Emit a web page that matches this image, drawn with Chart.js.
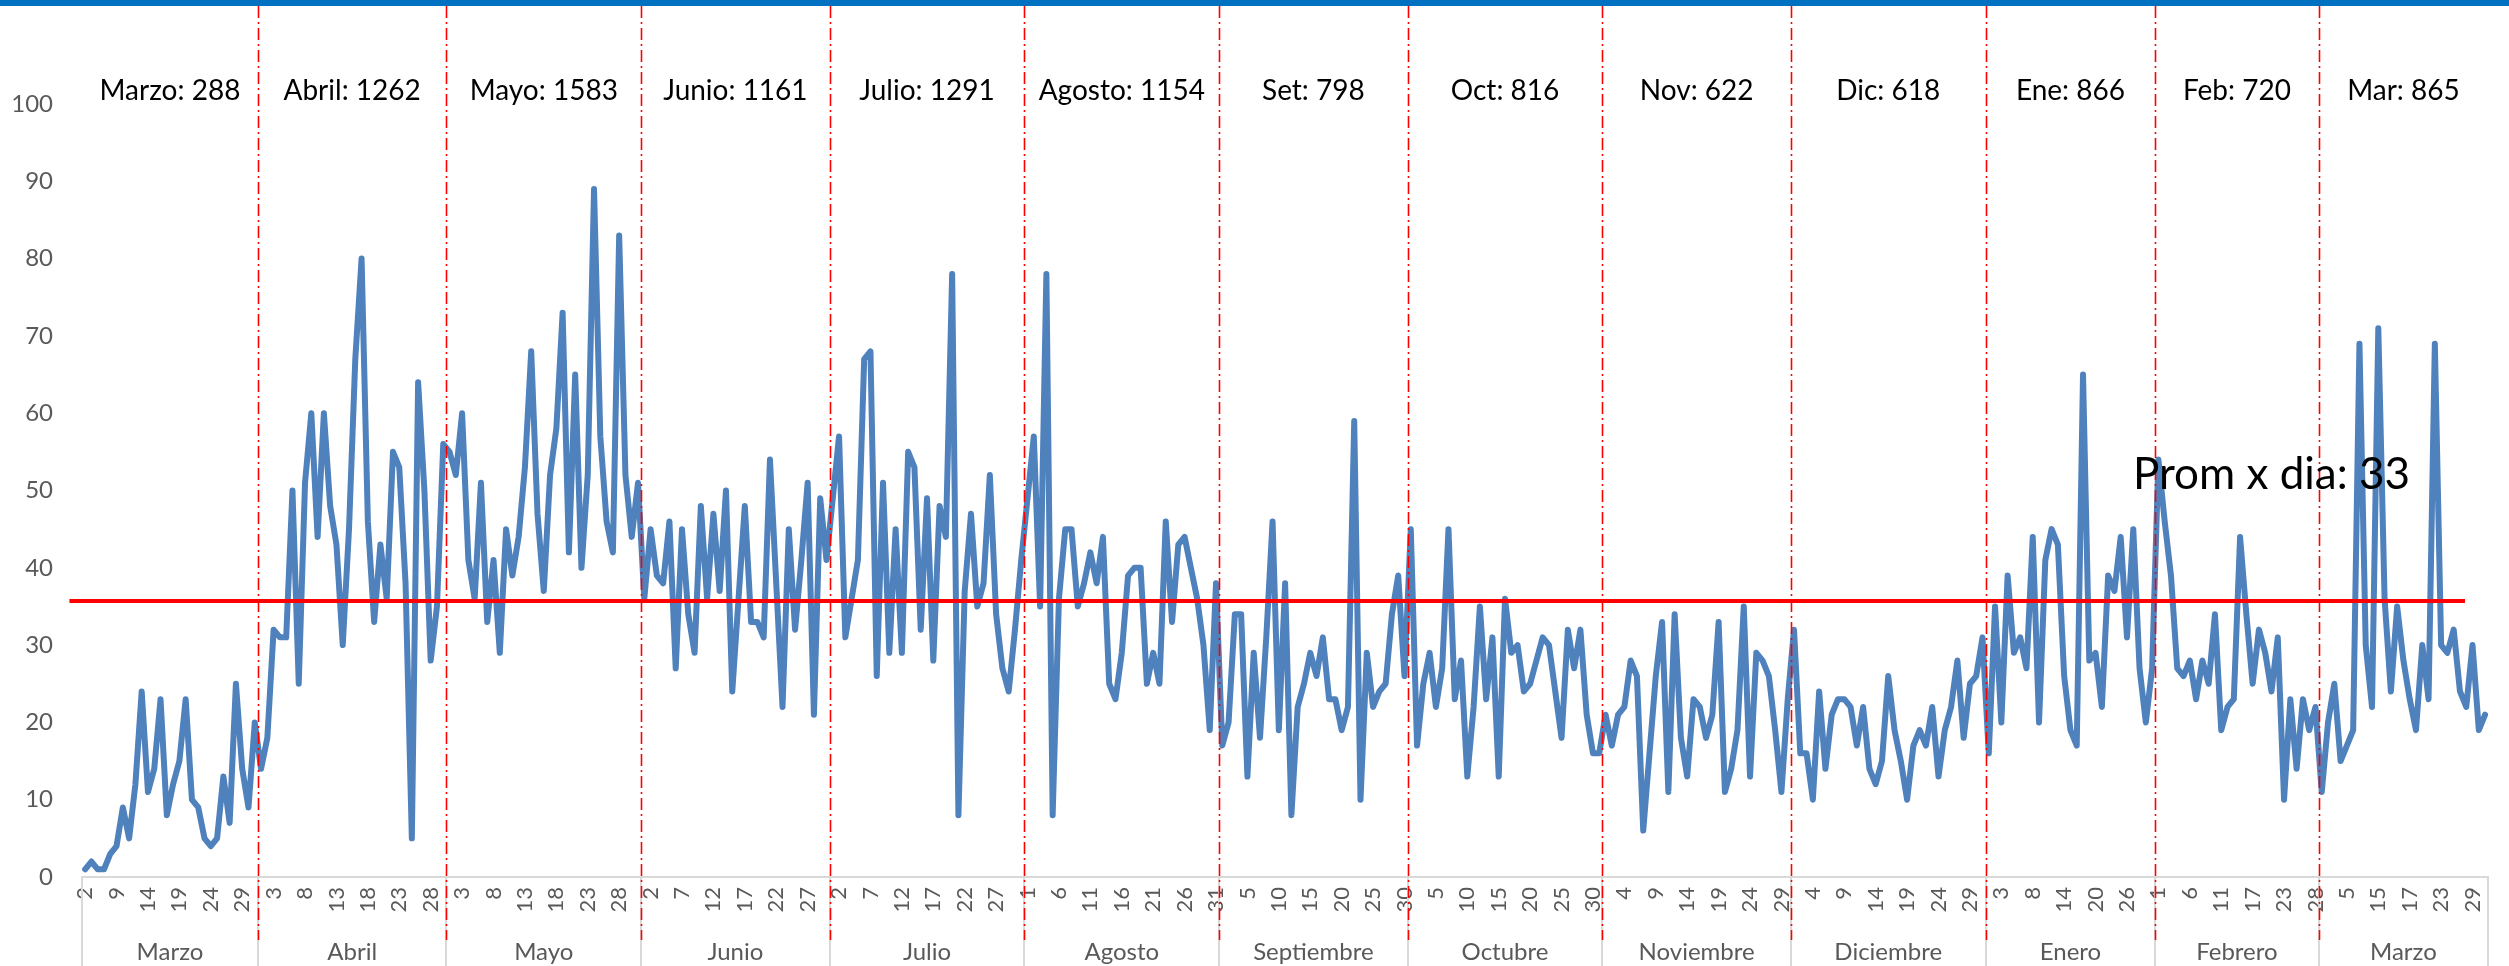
<!DOCTYPE html>
<html>
<head>
<meta charset="utf-8">
<title>Atenciones por día</title>
<script src="https://cdn.jsdelivr.net/npm/chart.js@4.4.1/dist/chart.umd.min.js"></script>
<style>
  html, body { margin: 0; padding: 0; background: #fff; }
  #wrap { position: relative; width: 2509px; height: 966px; }
  #topBar { position: absolute; left: 0; top: 0; width: 2509px; height: 6px; background: #0070c0; }
</style>
</head>
<body>
<div id="wrap">
  <canvas id="dailyChart" width="2509" height="966"></canvas>
  <div id="topBar"></div>
</div>
<script>
// month names (axis group row) and the totals shown at the top
const monthNames = ["Marzo", "Abril", "Mayo", "Junio", "Julio", "Agosto", "Septiembre",
  "Octubre", "Noviembre", "Diciembre", "Enero", "Febrero", "Marzo"];
const monthShort = ["Marzo", "Abril", "Mayo", "Junio", "Julio", "Agosto", "Set",
  "Oct", "Nov", "Dic", "Ene", "Feb", "Mar"];
const monthTotals = [288, 1262, 1583, 1161, 1291, 1154, 798, 816, 622, 618, 866, 720, 865];

// daily values, one array per month
const marzoVals = [1, 2, 1, 1, 3, 4, 9, 5, 12, 24, 11, 14, 23, 8, 12, 15, 23, 10, 9, 5, 4, 5, 13, 7, 25, 14, 9, 20];
const abrilVals = [14, 18, 32, 31, 31, 50, 25, 51, 60, 44, 60, 48, 43, 30, 45, 67, 80, 46, 33, 43, 36, 55, 53, 38, 5, 64, 50, 28, 35, 56];
const mayoVals = [55, 52, 60, 41, 36, 51, 33, 41, 29, 45, 39, 44, 53, 68, 47, 37, 52, 58, 73, 42, 65, 40, 52, 89, 57, 46, 42, 83, 52, 44, 51];
const junioVals = [36, 45, 39, 38, 46, 27, 45, 34, 29, 48, 36, 47, 37, 50, 24, 36, 48, 33, 33, 31, 54, 38, 22, 45, 32, 41, 51, 21, 49, 41];
const julioVals = [49, 57, 31, 36, 41, 67, 68, 26, 51, 29, 45, 29, 55, 53, 32, 49, 28, 48, 44, 78, 8, 37, 47, 35, 38, 52, 34, 27, 24, 32, 41];
const agostoVals = [49, 57, 35, 78, 8, 36, 45, 45, 35, 38, 42, 38, 44, 25, 23, 29, 39, 40, 40, 25, 29, 25, 46, 33, 43, 44, 40, 36, 30, 19, 38];
const setVals = [17, 20, 34, 34, 13, 29, 18, 31, 46, 19, 38, 8, 22, 25, 29, 26, 31, 23, 23, 19, 22, 59, 10, 29, 22, 24, 25, 34, 39, 26];
const octVals = [45, 17, 25, 29, 22, 27, 45, 23, 28, 13, 22, 35, 23, 31, 13, 36, 29, 30, 24, 25, 28, 31, 30, 24, 18, 32, 27, 32, 21, 16, 16];
const novVals = [21, 17, 21, 22, 28, 26, 6, 16, 26, 33, 11, 34, 18, 13, 23, 22, 18, 21, 33, 11, 14, 19, 35, 13, 29, 28, 26, 19, 11, 23];
const dicVals = [32, 16, 16, 10, 24, 14, 21, 23, 23, 22, 17, 22, 14, 12, 15, 26, 19, 15, 10, 17, 19, 17, 22, 13, 19, 22, 28, 18, 25, 26, 31];
const eneVals = [16, 35, 20, 39, 29, 31, 27, 44, 20, 41, 45, 43, 26, 19, 17, 65, 28, 29, 22, 39, 37, 44, 31, 45, 27, 20, 27];
const febVals = [54, 46, 39, 27, 26, 28, 23, 28, 25, 34, 19, 22, 23, 44, 34, 25, 32, 29, 24, 31, 10, 23, 14, 23, 19, 22];
const marVals = [11, 20, 25, 15, 17, 19, 69, 30, 22, 71, 36, 24, 35, 28, 23, 19, 30, 23, 69, 30, 29, 32, 24, 22, 30, 19, 21];

// day-of-month labels for each point
function fullMonth(n) {
  const out = [];
  for (let d = 1; d <= n; d++) out.push(d);
  return out;
}
const marzoDays = [2, 3, 5, 6, 8, 9, 10, 11, 12, 13, 14, 15, 16, 17, 18, 19, 20, 21, 22, 23, 24, 25, 26, 27, 28, 29, 30, 31];
const eneDays = [1, 2, 3, 4, 5, 6, 7, 8, 9, 10, 11, 12, 14, 15, 16, 17, 18, 20, 21, 22, 23, 24, 26, 27, 28, 29, 31];
const febDays = [1, 2, 3, 4, 5, 6, 7, 8, 9, 10, 11, 12, 13, 14, 15, 17, 18, 19, 20, 21, 23, 24, 25, 26, 27, 28];
const marDays = [1, 2, 3, 4, 5, 6, 7, 8, 9, 15, 10, 11, 12, 16, 17, 18, 19, 20, 22, 23, 24, 25, 26, 28, 29, 30, 31];

// average line and its label
const avgValue = 35.7;
const avgFrom = -2.5;
const avgTo = 378.8;
const avgLabel = "Prom x dia: 33";
const avgLabelAt = [348, 52];

const monthValues = [marzoVals, abrilVals, mayoVals, junioVals, julioVals, agostoVals,
  setVals, octVals, novVals, dicVals, eneVals, febVals, marVals];
const monthDays = [marzoDays, fullMonth(30), fullMonth(31), fullMonth(30), fullMonth(31), fullMonth(31),
  fullMonth(30), fullMonth(31), fullMonth(30), fullMonth(31), eneDays, febDays, marDays];

const values = monthValues.flat();
const dayLabels = monthDays.flat();
const monthStarts = [];
let count = 0;
monthValues.forEach((m) => {
  monthStarts.push(count);
  count += m.length;
});
const lastIndex = values.length - 1;
const edges = monthStarts.map((s) => s - 0.5).concat([lastIndex + 0.5]);

const tickValues = [];
for (let i = 0; i <= lastIndex; i += 5) tickValues.push(i);

Chart.defaults.font.family = "Lato, 'Open Sans', sans-serif";

const monthMarks = {
  id: "monthMarks",
  afterDraw(chart) {
    const { ctx, chartArea } = chart;
    const xs = chart.scales.x;
    const ys = chart.scales.y;
    ctx.save();

    // gray group boxes under the axis
    ctx.strokeStyle = "#d9d9d9";
    ctx.lineWidth = 2;
    edges.forEach((e) => {
      const px = Math.round(xs.getPixelForValue(e));
      ctx.beginPath();
      ctx.moveTo(px, chartArea.bottom);
      ctx.lineTo(px, chart.height);
      ctx.stroke();
    });

    ctx.textAlign = "center";
    ctx.textBaseline = "middle";
    for (let i = 0; i < monthNames.length; i++) {
      const mid = (xs.getPixelForValue(edges[i]) + xs.getPixelForValue(edges[i + 1])) / 2;
      ctx.fillStyle = "#595959";
      ctx.font = "24px Lato";
      ctx.fillText(monthNames[i], mid, 952);
      ctx.fillStyle = "#000";
      ctx.font = "28px Lato";
      ctx.fillText(`${monthShort[i]}: ${monthTotals[i]}`, mid, 91);
    }

    // red dash-dot month separators
    ctx.strokeStyle = "#ff0000";
    ctx.lineWidth = 1.6;
    ctx.setLineDash([12, 4, 2, 4]);
    edges.slice(1, -1).forEach((e) => {
      const px = Math.round(xs.getPixelForValue(e)) + 0.5;
      ctx.beginPath();
      ctx.moveTo(px, 6);
      ctx.lineTo(px, 940);
      ctx.stroke();
    });
    ctx.setLineDash([]);

    ctx.fillStyle = "#000";
    ctx.font = "44px Lato";
    ctx.fillText(avgLabel, xs.getPixelForValue(avgLabelAt[0]), ys.getPixelForValue(avgLabelAt[1]));
    ctx.restore();
  }
};

const ctx = document.getElementById("dailyChart").getContext("2d");
new Chart(ctx, {
  type: "line",
  data: {
    datasets: [
      {
        label: "Promedio",
        data: [{ x: avgFrom, y: avgValue }, { x: avgTo, y: avgValue }],
        borderColor: "#ff0000",
        borderWidth: 4,
        pointRadius: 0,
        clip: false,
        order: 0
      },
      {
        label: "Diario",
        data: values.map((v, i) => ({ x: i, y: v })),
        borderColor: "#4f81bd",
        borderWidth: 6,
        borderJoinStyle: "round",
        borderCapStyle: "round",
        pointRadius: 0,
        tension: 0,
        order: 1
      }
    ]
  },
  options: {
    responsive: false,
    animation: false,
    devicePixelRatio: 1,
    events: [],
    layout: { padding: { top: 104, right: 10, bottom: 0, left: 0 } },
    plugins: {
      legend: { display: false },
      tooltip: { enabled: false }
    },
    scales: {
      x: {
        type: "linear",
        bounds: "data",
        min: -0.5,
        max: lastIndex + 0.5,
        grid: { display: false, drawTicks: false },
        border: { display: true, color: "#d9d9d9", width: 2 },
        afterBuildTicks: (scale) => {
          scale.ticks = tickValues.map((v) => ({ value: v }));
        },
        afterFit: (scale) => {
          scale.height = 89;
        },
        ticks: {
          autoSkip: false,
          minRotation: 90,
          maxRotation: 90,
          padding: 10,
          color: "#595959",
          font: { size: 22 },
          callback: (value) => (dayLabels[value] !== undefined ? String(dayLabels[value]) : "")
        }
      },
      y: {
        min: 0,
        max: 100,
        grid: { display: false, drawTicks: false },
        border: { display: false },
        afterFit: (scale) => {
          scale.width = 82;
        },
        ticks: {
          stepSize: 10,
          padding: 29,
          color: "#595959",
          font: { size: 24 }
        }
      }
    }
  },
  plugins: [monthMarks]
});
</script>
</body>
</html>
